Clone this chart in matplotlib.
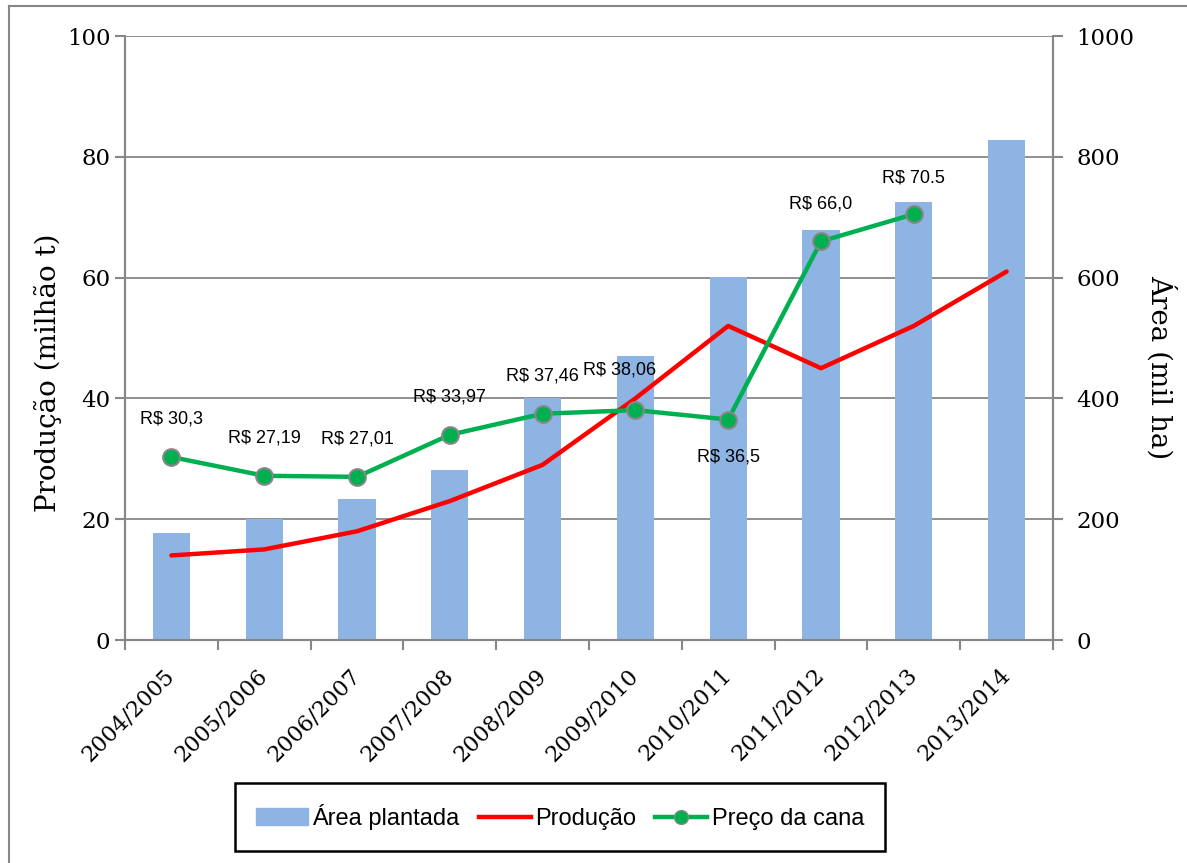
import matplotlib
matplotlib.use("Agg")
import matplotlib.pyplot as plt
from matplotlib.lines import Line2D
import numpy as np

# data
safras = ["2004/2005", "2005/2006", "2006/2007", "2007/2008", "2008/2009",
          "2009/2010", "2010/2011", "2011/2012", "2012/2013", "2013/2014"]
area_plantada = [177, 201, 233, 281, 401, 471, 601, 678, 725, 828]  # mil ha
producao = [14.0, 15.0, 18.0, 23.0, 29.0, 40.0, 52.0, 45.0, 52.0, 61.0]  # milhao t
preco_cana = [30.3, 27.19, 27.01, 33.97, 37.46, 38.06, 36.5, 66.0, 70.5, None]
preco_rotulos = ["R$ 30,3", "R$ 27,19", "R$ 27,01", "R$ 33,97", "R$ 37,46",
                 "R$ 38,06", "R$ 36,5", "R$ 66,0", "R$ 70.5", None]

# label offsets (points), layout only
rotulo_offsets = [(0, 27), (0, 27), (0, 27), (0, 27), (0, 27),
                  (-11.5, 29), (0, -27), (0, 27), (0, 26), (0, 0)]

SERIF = "DejaVu Serif"
SANS = "Liberation Sans"
GRAY = "#878787"

fig = plt.figure(figsize=(11.87, 8.63), dpi=100)
ax = fig.add_axes([125 / 1187, 1 - 640 / 863, (1053 - 125) / 1187, (640 - 36) / 863])
ax2 = ax.twinx()

x = np.arange(len(safras))

# bars on the right axis, grid there too
ax2.bar(x, area_plantada, width=0.4, color="#8EB4E3", zorder=2)
ax2.set_ylim(0, 1000)
ax2.set_yticks(np.arange(0, 1001, 200))
ax2.grid(axis="y", color=GRAY, linewidth=1.3, zorder=0)
ax2.set_axisbelow(True)

# lines on the left axis, drawn above bars
ax.set_zorder(ax2.get_zorder() + 1)
ax.patch.set_visible(False)
ax.plot(x, producao, color="#FF0000", linewidth=3.2, solid_capstyle="round", zorder=3)
px = [i for i, v in enumerate(preco_cana) if v is not None]
py = [v for v in preco_cana if v is not None]
ax.plot(px, py, color="#00B050", linewidth=3.2, marker="o", markersize=12,
        markerfacecolor="#00B050", markeredgecolor=GRAY, markeredgewidth=1.5, zorder=4)
for i in px:
    ax.annotate(preco_rotulos[i], (i, preco_cana[i]), xytext=rotulo_offsets[i],
                textcoords="offset points", ha="center", va="center",
                fontsize=13, family=SANS)

ax.set_ylim(0, 100)
ax.set_yticks(np.arange(0, 101, 20))
ax.set_xlim(-0.5, len(safras) - 0.5)

# x ticks at the category boundaries, labels at centres
ax.set_xticks(np.arange(-0.5, len(safras), 1.0))
ax.set_xticklabels([])
ax.set_xticks(x, minor=True)
ax.set_xticklabels(safras, minor=True, rotation=45, ha="right", va="center",
                   rotation_mode="anchor", family=SERIF, fontsize=16)
ax.tick_params(axis="x", which="major", length=7, width=1.5, color=GRAY, direction="out")
ax.tick_params(axis="x", which="minor", length=0, pad=23)
ax.tick_params(axis="y", length=7, width=1.5, color=GRAY, direction="out", labelsize=16.5)
ax2.tick_params(axis="y", length=7, width=1.5, color=GRAY, direction="out", labelsize=16.5, pad=10)
for t in ax.get_yticklabels() + ax2.get_yticklabels():
    t.set_family(SERIF)

for a in (ax, ax2):
    a.spines["top"].set_visible(False)
    for s in ("left", "right", "bottom"):
        a.spines[s].set_color(GRAY)
        a.spines[s].set_linewidth(1.5)

ax.set_ylabel("Produção (milhão t)", family=SERIF, fontsize=20)
ax.yaxis.set_label_coords(-0.068, 0.442)
ax2.set_ylabel("Área (mil ha)", family=SERIF, fontsize=20, rotation=-90, va="bottom")
ax2.yaxis.set_label_coords(1.100, 0.452)

handles = [plt.Rectangle((0, 0), 1, 1, color="#8EB4E3"),
           Line2D([], [], color="#FF0000", linewidth=3.2),
           Line2D([], [], color="#00B050", linewidth=3.2, marker="o", markersize=10,
                  markerfacecolor="#00B050", markeredgecolor=GRAY)]
leg = fig.legend(handles, ["Área plantada", "Produção", "Preço da cana"],
                 loc="center", bbox_to_anchor=(560 / 1187, 1 - 817 / 863), ncol=3,
                 prop={"family": SANS, "size": 17}, fancybox=False, framealpha=1,
                 edgecolor="black", handlelength=2.2, handletextpad=0.2,
                 columnspacing=0.8, borderpad=0.9)
leg.get_frame().set_linewidth(1.8)

# outer chart frame (cropped at right and bottom)
fig.add_artist(Line2D([9 / 1187, 9 / 1187], [0, 1 - 6 / 863], transform=fig.transFigure,
                      color=GRAY, linewidth=1.5))
fig.add_artist(Line2D([9 / 1187, 1], [1 - 6 / 863, 1 - 6 / 863], transform=fig.transFigure,
                      color=GRAY, linewidth=1.5))

fig.savefig("out.png", dpi=100)
